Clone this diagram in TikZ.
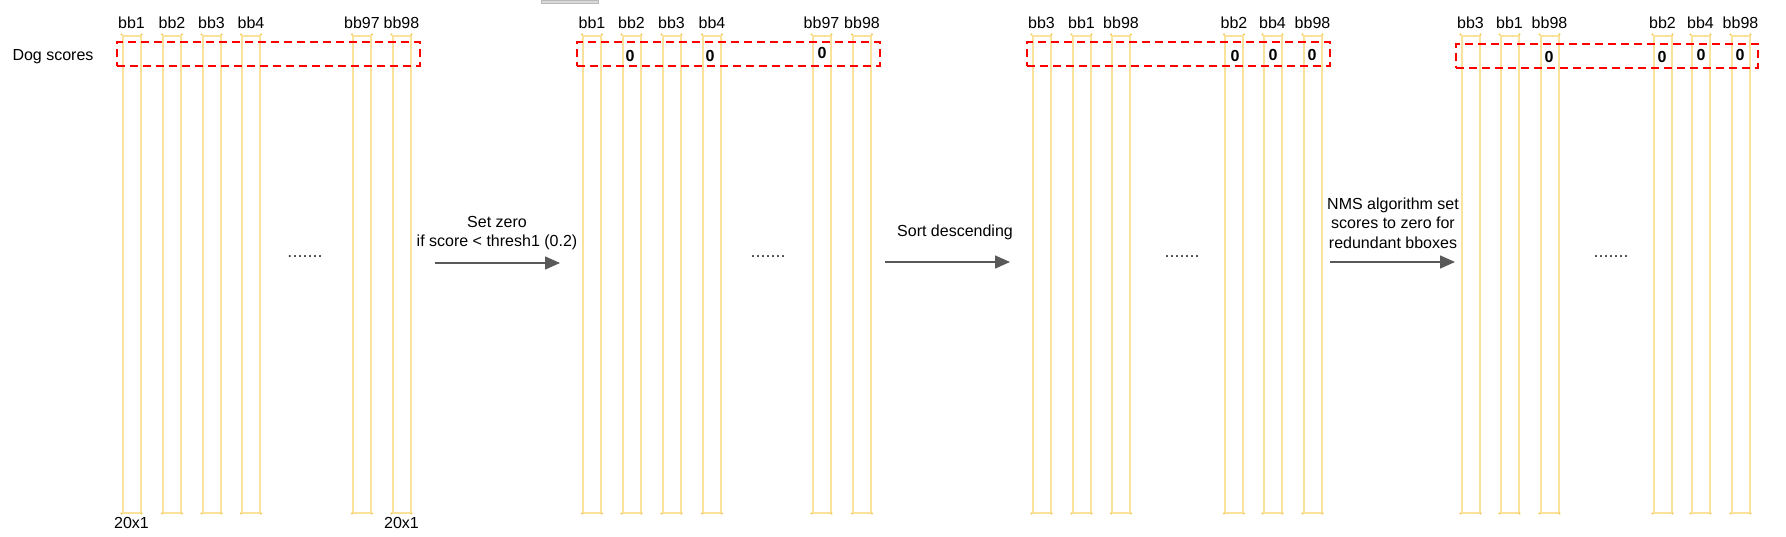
\documentclass[tikz,border=0pt]{standalone}
\usepackage{fontspec}
\setmainfont{Liberation Sans}
\usetikzlibrary{positioning}
\usetikzlibrary{arrows.meta}
\definecolor{barline}{HTML}{FBE29C}
\definecolor{bardot}{HTML}{F4C850}
\definecolor{arrowgray}{HTML}{595959}

\begin{document}
\begin{tikzpicture}[
    x=1pt, y=-1pt,
    bbar/.style={draw=barline, line width=2pt, inner sep=0pt, minimum width=18pt, minimum height=477pt},
    bblabel/.style={font=\fontsize{16}{19}\selectfont, inner sep=0.5pt},
    zero/.style={font=\fontsize{16}{19}\selectfont\bfseries, inner sep=0pt},
    scorebox/.style={draw=red, line width=2pt, dash pattern=on 8pt off 5pt, inner sep=0pt, minimum height=24pt},
    steparrow/.style={draw=arrowgray, line width=1.5pt, -{Triangle[length=15pt,width=13pt]}},
    steptext/.style={font=\fontsize{16}{19.5}\selectfont, align=center, inner sep=0pt},
    moredots/.style={font=\fontsize{18}{20}\selectfont, text=black!80, inner sep=0pt}
]
\useasboundingbox (0,0) rectangle (1786,536);
\fill[gray!30, draw=gray!55] (541,0) rectangle (598,3);

% score columns, one per bbox
\foreach \xc/\nm/\txt in {131.5/g1b1/bb1, 172/g1b2/bb2, 211.5/g1b3/bb3, 251/g1b4/bb4, 362/g1b97/bb97, 401.5/g1b98/bb98,
    592/g2b1/bb1, 631.5/g2b2/bb2, 671.5/g2b3/bb3, 712/g2b4/bb4, 821.5/g2b97/bb97, 862/g2b98/bb98,
    1041.5/g3b3/bb3, 1081.5/g3b1/bb1, 1121/g3b98/bb98, 1234/g3b2/bb2, 1272.5/g3b4/bb4, 1312.5/g3b98x/bb98,
    1470.5/g4b3/bb3, 1509.5/g4b1/bb1, 1549.5/g4b98/bb98, 1662.5/g4b2/bb2, 1700.5/g4b4/bb4, 1740.5/g4b98x/bb98} {
  \node[bbar] (\nm) at (\xc,274) {};
  \node[bblabel, above=5pt of \nm] (\nm lbl) {\txt};
  \foreach \c in {north west, north east, south west, south east}
    \fill[bardot] (\nm.\c) circle (1.2pt);
}

\node[font=\fontsize{16}{19}\selectfont] (dog) at (53,57) {Dog scores};
\node[bblabel, below=3pt of g1b1] (dimA) {20x1};
\node[bblabel, below=3pt of g1b98] (dimB) {20x1};

% dashed boxes round the score rows
\node[scorebox, minimum width=303pt] (box1) at (268.5,54) {};
\node[scorebox, minimum width=303pt] (box2) at (728.5,54) {};
\node[scorebox, minimum width=303pt] (box3) at (1178.5,54) {};
\node[scorebox, minimum width=302pt] (box4) at (1607,55.5) {};

% zeroed scores
\node[zero] (g2z2) at (630,56) {0};
\node[zero] (g2z4) at (710,56) {0};
\node[zero] (g2z97) at (822,53) {0};
\node[zero] (g3z2) at (1235,56) {0};
\node[zero] (g3z4) at (1273,55) {0};
\node[zero] (g3z98) at (1312,55) {0};
\node[zero] (g4z98) at (1549,57) {0};
\node[zero] (g4z2) at (1662,57) {0};
\node[zero] (g4z4) at (1701,55) {0};
\node[zero] (g4z98x) at (1740,55) {0};

\node[moredots] (dots1) at (305,257) {.......};
\node[moredots] (dots2) at (768,257) {.......};
\node[moredots] (dots3) at (1182,257) {.......};
\node[moredots] (dots4) at (1611,257) {.......};

% processing steps
\coordinate (a1s) at (435,263);
\coordinate (a1e) at (560,263);
\coordinate (a2s) at (885,262);
\coordinate (a2e) at (1010,262);
\coordinate (a3s) at (1330,262);
\coordinate (a3e) at (1455,262);
\draw[steparrow] (a1s) -- (a1e);
\draw[steparrow] (a2s) -- (a2e);
\draw[steparrow] (a3s) -- (a3e);
\node[steptext] (t1) at (497,233) {Set zero\\if score < thresh1 (0.2)};
\node[steptext] (t2) at (955,232) {Sort descending};
\node[steptext] (t3) at (1393,223) {NMS algorithm set\\scores to zero for\\redundant bboxes};
\end{tikzpicture}
\end{document}
